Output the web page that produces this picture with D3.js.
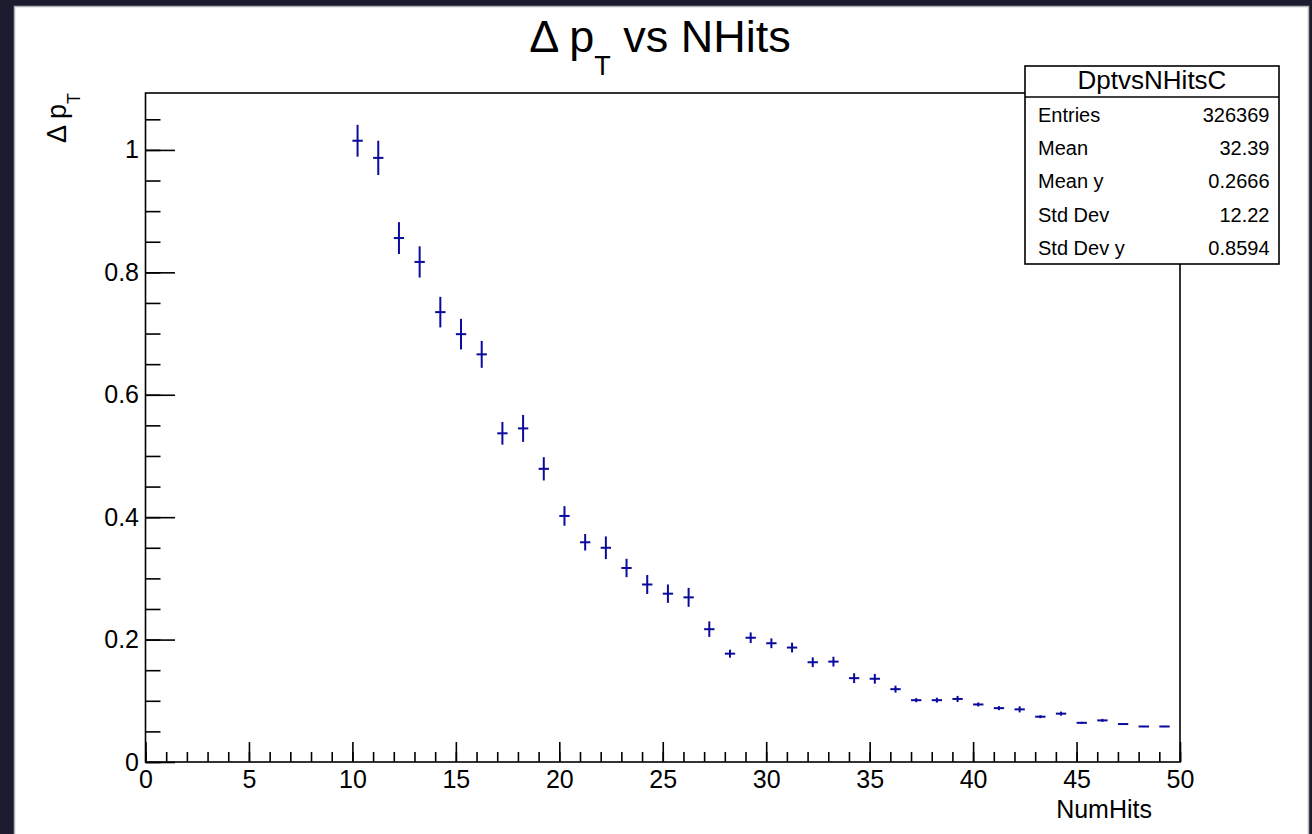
<!DOCTYPE html>
<html>
<head>
<meta charset="utf-8">
<script src="https://cdn.jsdelivr.net/npm/d3@7"></script>
<style>
  html, body { margin: 0; padding: 0; background: #1c1b2f; }
  svg { display: block; }
  text { font-family: "Liberation Sans", Arial, Helvetica, sans-serif; fill: #000; }
</style>
</head>
<body>
<svg id="chart" width="1312" height="834"></svg>
<script>
// profile bins (centre of each 0.5-wide bin)
var nhits = [10.25, 11.25, 12.25, 13.25, 14.25, 15.25, 16.25, 17.25, 18.25, 19.25,
             20.25, 21.25, 22.25, 23.25, 24.25, 25.25, 26.25, 27.25, 28.25, 29.25,
             30.25, 31.25, 32.25, 33.25, 34.25, 35.25, 36.25, 37.25, 38.25, 39.25,
             40.25, 41.25, 42.25, 43.25, 44.25, 45.25, 46.25, 47.25, 48.25, 49.25];
var dpt = [1.015, 0.987, 0.856, 0.817, 0.735, 0.699, 0.666, 0.537, 0.545, 0.479,
           0.402, 0.359, 0.350, 0.317, 0.290, 0.275, 0.269, 0.217, 0.177, 0.203,
           0.194, 0.187, 0.163, 0.164, 0.137, 0.136, 0.119, 0.101, 0.101, 0.103,
           0.094, 0.088, 0.086, 0.074, 0.079, 0.064, 0.068, 0.062, 0.058, 0.058];
var dptErr = [0.026, 0.028, 0.026, 0.0255, 0.025, 0.025, 0.022, 0.0185, 0.022, 0.019,
              0.016, 0.0135, 0.0185, 0.015, 0.0155, 0.015, 0.0155, 0.0127, 0.0065, 0.0087,
              0.008, 0.008, 0.008, 0.008, 0.008, 0.008, 0.0057, 0.0033, 0.004, 0.005,
              0.0033, 0.0033, 0.005, 0.0025, 0.0033, 0.0016, 0.0025, 0.001, 0.001, 0.001];
var binHalf = 0.25;

var xMajor = [0, 5, 10, 15, 20, 25, 30, 35, 40, 45, 50];
var yMajor = [0, 0.2, 0.4, 0.6, 0.8, 1];

var statsTitle = "DptvsNHitsC";
var statsLabels = ["Entries", "Mean", "Mean y", "Std Dev", "Std Dev y"];
var statsValues = ["326369", "32.39", "0.2666", "12.22", "0.8594"];

var svg = d3.select("#chart");

var frameL = 145.5, frameR = 1180, frameT = 93, frameB = 762;
var x = d3.scaleLinear().domain([0, 50]).range([frameL, frameR]);
var y = d3.scaleLinear().domain([0, 1.093]).range([frameB, frameT]);

var lineW = 1.6;

// canvas pad
svg.append("rect")
  .attr("x", 14.5).attr("y", 6.5)
  .attr("width", 1294).attr("height", 830)
  .attr("fill", "#fff")
  .attr("stroke", "#b4b4b4").attr("stroke-width", 1.5);

// minor ticks
var xMinor = svg.append("g")
  .attr("transform", "translate(0," + frameB + ")")
  .call(d3.axisBottom(x).tickValues(d3.range(0, 51, 1)).tickSize(-10).tickFormat(""));
var yMinor = svg.append("g")
  .attr("transform", "translate(" + frameL + ",0)")
  .call(d3.axisLeft(y).tickValues(d3.range(0, 1.06, 0.05)).tickSize(-15).tickFormat(""));

// major ticks + labels
var xAxis = svg.append("g")
  .attr("transform", "translate(0," + frameB + ")")
  .call(d3.axisBottom(x).tickValues(xMajor).tickSize(-20).tickPadding(8).tickFormat(d3.format("")));
var yAxis = svg.append("g")
  .attr("transform", "translate(" + frameL + ",0)")
  .call(d3.axisLeft(y).tickValues(yMajor).tickSize(-29.5).tickPadding(6.5).tickFormat(function(d) { return String(d); }));

[xMinor, yMinor, xAxis, yAxis].forEach(function(g) {
  g.select(".domain").remove();
  g.selectAll("line").attr("stroke", "#000").attr("stroke-width", lineW);
  g.selectAll("text").attr("font-size", 25).attr("font-family", null).attr("fill", "#000");
});

// frame
svg.append("rect")
  .attr("x", frameL).attr("y", frameT)
  .attr("width", frameR - frameL).attr("height", frameB - frameT)
  .attr("fill", "none").attr("stroke", "#000").attr("stroke-width", lineW);

// data: error-bar crosses
var pts = svg.append("g").attr("stroke", "#0a0a9c").attr("stroke-width", 2);
nhits.forEach(function(c, i) {
  pts.append("line")
    .attr("x1", x(c)).attr("x2", x(c))
    .attr("y1", y(dpt[i] - dptErr[i])).attr("y2", y(dpt[i] + dptErr[i]));
  pts.append("line")
    .attr("x1", x(c - binHalf)).attr("x2", x(c + binHalf))
    .attr("y1", y(dpt[i])).attr("y2", y(dpt[i]));
});

// title
var title = svg.append("text")
  .attr("x", 660).attr("y", 52)
  .attr("text-anchor", "middle")
  .attr("font-size", 45);
title.append("tspan").text("\u0394 p");
title.append("tspan").attr("font-size", 27).attr("dy", 23).text("T");
title.append("tspan").attr("dy", -23).text(" vs NHits");

// y title
var ytitle = svg.append("text")
  .attr("transform", "translate(66," + frameT + ") rotate(-90)")
  .attr("text-anchor", "end")
  .attr("font-size", 27);
ytitle.append("tspan").text("\u0394 p");
ytitle.append("tspan").attr("font-size", 18).attr("dy", 14).text("T");

// x title
svg.append("text")
  .attr("x", 1152).attr("y", 818)
  .attr("text-anchor", "end")
  .attr("font-size", 25)
  .text("NumHits");

// stats box
var sx0 = 1025, sx1 = 1279, sy0 = 66, sy1 = 264, sySep = 97;
svg.append("rect")
  .attr("x", sx0).attr("y", sy0)
  .attr("width", sx1 - sx0).attr("height", sy1 - sy0)
  .attr("fill", "#fff").attr("stroke", "#000").attr("stroke-width", lineW);
svg.append("line")
  .attr("x1", sx0).attr("x2", sx1).attr("y1", sySep).attr("y2", sySep)
  .attr("stroke", "#000").attr("stroke-width", lineW);
svg.append("text")
  .attr("x", (sx0 + sx1) / 2).attr("y", 88.5)
  .attr("text-anchor", "middle")
  .attr("font-size", 26)
  .text(statsTitle);
statsLabels.forEach(function(lab, i) {
  var by = 121.7 + i * 33.3;
  svg.append("text").attr("x", 1038).attr("y", by).attr("font-size", 20).text(lab);
  svg.append("text").attr("x", 1269.5).attr("y", by).attr("font-size", 20)
    .attr("text-anchor", "end").text(statsValues[i]);
});
</script>
</body>
</html>
